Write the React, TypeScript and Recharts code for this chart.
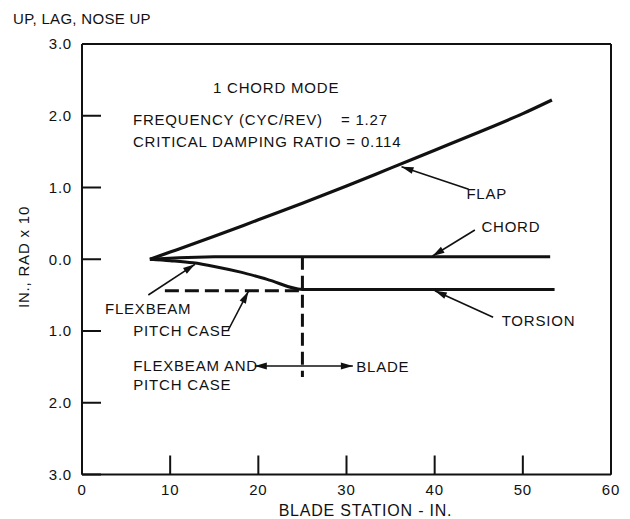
import React from 'react';
import {
  LineChart,
  Line,
  XAxis,
  YAxis,
  ReferenceLine,
  ReferenceDot,
  Customized,
} from 'recharts';

// blade station (in.) and deflection (in., rad x 10)
const flapX = [7.7, 10, 15, 20, 25, 30, 35, 40, 45, 50, 53.3];
const flapY = [0, 0.1, 0.32, 0.55, 0.78, 1.02, 1.27, 1.52, 1.77, 2.03, 2.22];
const chordX = [7.7, 11, 15, 53.1];
const chordY = [0, 0.02, 0.035, 0.035];
const torsionX = [7.7, 10, 12.6, 15, 18, 21, 25, 53.6];
const torsionY = [0, -0.02, -0.05, -0.1, -0.18, -0.28, -0.42, -0.42];
const pitchCaseX = [9.4, 25];
const pitchCaseY = [-0.44, -0.44];
const splitX = [25, 25];
const splitY = [0.035, -1.64];

const xTicks = [0, 10, 20, 30, 40, 50, 60];
const yTicks = [-3, -2, -1, 0, 1, 2, 3];

const notes = [
  { text: '1 CHORD MODE', x: 14.85, y: 2.39 },
  { text: 'FREQUENCY (CYC/REV)', x: 5.78, y: 1.95 },
  { text: '= 1.27', x: 29.37, y: 1.95 },
  { text: 'CRITICAL DAMPING RATIO = 0.114', x: 5.78, y: 1.64 },
  { text: 'FLAP', x: 43.6, y: 0.91 },
  { text: 'CHORD', x: 45.3, y: 0.45 },
  { text: 'TORSION', x: 47.6, y: -0.85 },
  { text: 'FLEXBEAM', x: 2.6, y: -0.69 },
  { text: 'PITCH CASE', x: 5.82, y: -0.99 },
  { text: 'FLEXBEAM AND', x: 5.82, y: -1.48 },
  { text: 'PITCH CASE', x: 5.82, y: -1.74 },
  { text: 'BLADE', x: 31.1, y: -1.49 },
];

const arrows = [
  { from: [43.86, 0.975], to: [36.24, 1.29], both: false },
  { from: [44.56, 0.408], to: [39.76, 0.045], both: false },
  { from: [46.63, -0.809], to: [40.02, -0.438], both: false },
  { from: [7.52, -0.498], to: [12.81, -0.071], both: false },
  { from: [16.59, -0.986], to: [18.86, -0.45], both: false },
  { from: [19.6, -1.488], to: [30.72, -1.488], both: true },
];

const pts = (xs: number[], ys: number[]) => xs.map((x, i) => ({ x, y: ys[i] }));

const INK = '#111';

const head = (tx: number, ty: number, fx: number, fy: number) => {
  const a = Math.atan2(ty - fy, tx - fx);
  const L = 12;
  const W = 3.5;
  const bx = tx - L * Math.cos(a);
  const by = ty - L * Math.sin(a);
  const px = -Math.sin(a) * W;
  const py = Math.cos(a) * W;
  return (
    <polygon
      points={`${tx},${ty} ${bx + px},${by + py} ${bx - px},${by - py}`}
      fill={INK}
    />
  );
};

const arrowShape = (both: boolean) => (p: any) => {
  const { x1, y1, x2, y2 } = p;
  return (
    <g>
      <line x1={x1} y1={y1} x2={x2} y2={y2} stroke={INK} strokeWidth={1.6} />
      {head(x2, y2, x1, y1)}
      {both && head(x1, y1, x2, y2)}
    </g>
  );
};

const noteShape = (text: string) => (p: any) => (
  <text x={p.cx} y={p.cy} dominantBaseline="central" fontSize={15} fill={INK}>
    {text}
  </text>
);

const Titles = () => (
  <g fill={INK} fontSize={15}>
    <text x={13} y={18} dominantBaseline="central" letterSpacing="0.3px">
      UP, LAG, NOSE UP
    </text>
    <text
      transform="translate(23,257) rotate(-90)"
      textAnchor="middle"
      dominantBaseline="central"
    >
      IN., RAD x 10
    </text>
  </g>
);

export default function App() {
  return (
    <div
      style={{
        position: 'absolute',
        left: 0,
        top: 0,
        width: 630,
        height: 519,
        background: '#fff',
        fontFamily: "'Liberation Sans', Arial, sans-serif",
        letterSpacing: '0.8px',
      }}
    >
      <LineChart
        width={630}
        height={519}
        margin={{ top: 44, right: 19, bottom: 0, left: 0 }}
      >
        <XAxis
          dataKey="x"
          type="number"
          domain={[0, 60]}
          ticks={xTicks}
          height={44.5}
          axisLine={{ stroke: INK, strokeWidth: 2 }}
          tickLine={{ stroke: INK, strokeWidth: 2 }}
          tickSize={-19}
          tickMargin={28.5}
          tick={{ fill: INK, fontSize: 15 }}
          label={{
            value: 'BLADE STATION - IN.',
            position: 'insideBottom',
            offset: 3,
            dx: 19,
            fill: INK,
            fontSize: 16,
          }}
        />
        <YAxis
          dataKey="y"
          type="number"
          domain={[-3, 3]}
          ticks={yTicks}
          width={82}
          axisLine={{ stroke: INK, strokeWidth: 2 }}
          tickLine={{ stroke: INK, strokeWidth: 2 }}
          tickSize={-19}
          tickMargin={29}
          tick={{ fill: INK, fontSize: 15 }}
          tickFormatter={(v: number) => Math.abs(v).toFixed(1)}
        />
        <ReferenceLine y={3} stroke={INK} strokeWidth={2} />
        <ReferenceLine x={60} stroke={INK} strokeWidth={2} />

        <Line
          data={pts(flapX, flapY)}
          dataKey="y"
          type="monotone"
          stroke={INK}
          strokeWidth={3.2}
          dot={false}
          isAnimationActive={false}
        />
        <Line
          data={pts(chordX, chordY)}
          dataKey="y"
          type="linear"
          stroke={INK}
          strokeWidth={3}
          dot={false}
          isAnimationActive={false}
        />
        <Line
          data={pts(torsionX, torsionY)}
          dataKey="y"
          type="monotone"
          stroke={INK}
          strokeWidth={3}
          dot={false}
          isAnimationActive={false}
        />
        <Line
          data={pts(pitchCaseX, pitchCaseY)}
          dataKey="y"
          type="linear"
          stroke={INK}
          strokeWidth={3}
          strokeDasharray="14 6"
          dot={false}
          isAnimationActive={false}
        />
        <Line
          data={pts(splitX, splitY)}
          dataKey="y"
          type="linear"
          stroke={INK}
          strokeWidth={3}
          strokeDasharray="13 6"
          dot={false}
          isAnimationActive={false}
        />

        {arrows.map((a, i) => (
          <ReferenceLine
            key={`a${i}`}
            segment={[
              { x: a.from[0], y: a.from[1] },
              { x: a.to[0], y: a.to[1] },
            ]}
            shape={arrowShape(a.both)}
          />
        ))}
        {notes.map((n, i) => (
          <ReferenceDot
            key={`n${i}`}
            x={n.x}
            y={n.y}
            r={0}
            shape={noteShape(n.text)}
          />
        ))}
        <Customized component={Titles} />
      </LineChart>
    </div>
  );
}
